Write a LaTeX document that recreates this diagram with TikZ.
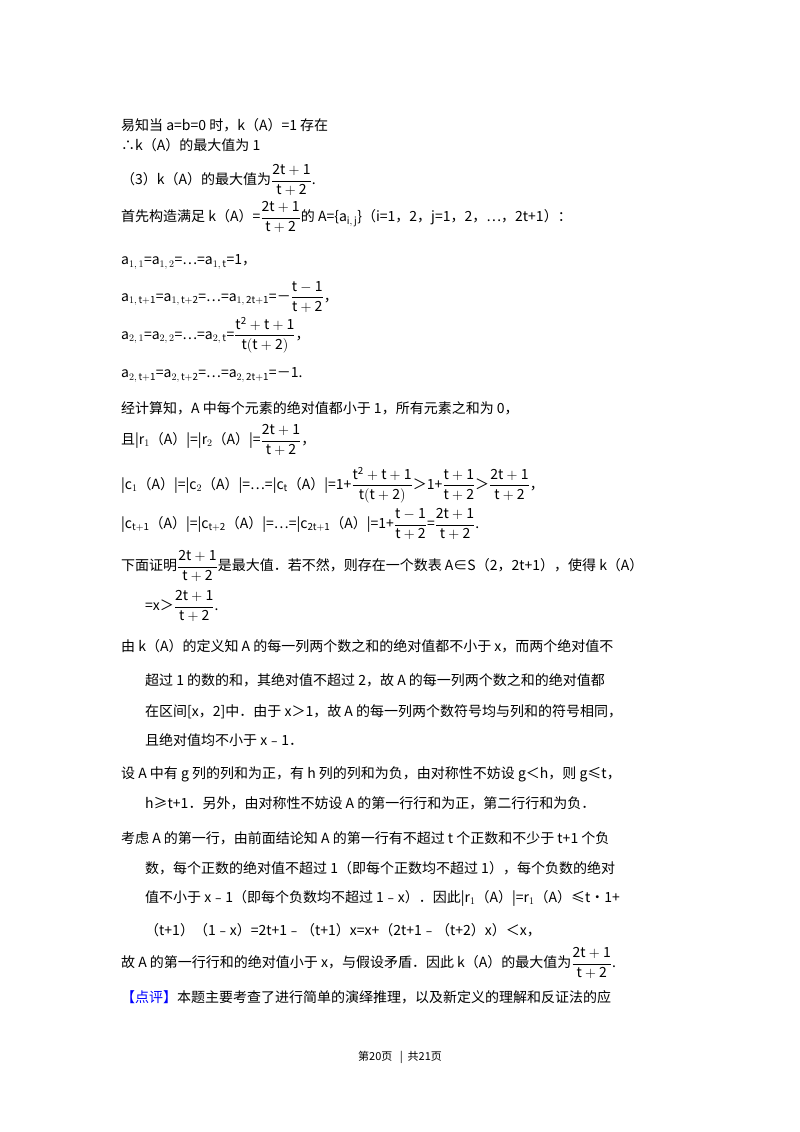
\documentclass[tikz,border=0pt]{standalone}
\usepackage{fontspec}
\setmainfont{Noto Sans CJK SC}
\newcommand{\fr}[2]{$\dfrac{\mathrm{#1}}{\mathrm{#2}}$}
\usepackage{amsmath}
\begin{document}
\begin{tikzpicture}[x=1pt,y=-1pt,
  ln/.style={anchor=west,inner sep=0pt,font=\fontsize{14}{16}\selectfont},
  ft/.style={inner sep=0pt,font=\fontsize{11}{13}\selectfont}]
\useasboundingbox[fill=white] (0,0) rectangle (800,1132);
\def\L{121}\def\I{145}
\node[ln] (l1) at (\L,125) {易知当 a=b=0 时，k（A）=1 存在};
\node[ln] (l2) at (\L,145) {∴k（A）的最大值为 1};
\node[ln] (l3) at (\L,180) {（3）k（A）的最大值为\fr{2t+1}{t+2}.};
\node[ln] (l4) at (\L,217) {首先构造满足 k（A）=\fr{2t+1}{t+2}的 A=\{a$_{\mathrm{i,\,j}}$\}（i=1，2，j=1，2，…，2t+1）：};
\node[ln] (l5) at (\L,262) {a$_{1,\,1}$=a$_{1,\,2}$=…=a$_{1,\,\mathrm{t}}$=1，};
\node[ln] (l6) at (\L,297) {a$_{1,\,\mathrm{t+1}}$=a$_{1,\,\mathrm{t+2}}$=…=a$_{1,\,\mathrm{2t+1}}$=－\fr{t-1}{t+2}，};
\node[ln] (l7) at (\L,335) {a$_{2,\,1}$=a$_{2,\,2}$=…=a$_{2,\,\mathrm{t}}$=\fr{t^2+t+1}{t(t+2)}，};
\node[ln] (l8) at (\L,375) {a$_{2,\,\mathrm{t+1}}$=a$_{2,\,\mathrm{t+2}}$=…=a$_{2,\,\mathrm{2t+1}}$=－1.};
\node[ln] (l9) at (\L,408) {经计算知，A 中每个元素的绝对值都小于 1，所有元素之和为 0，};
\node[ln] (l10) at (\L,440) {且|r$_1$（A）|=|r$_2$（A）|=\fr{2t+1}{t+2}，};
\node[ln] (l11) at (\L,485) {|c$_1$（A）|=|c$_2$（A）|=…=|c$_\mathrm{t}$（A）|=1+\fr{t^2+t+1}{t(t+2)}＞1+\fr{t+1}{t+2}＞\fr{2t+1}{t+2}，};
\node[ln] (l12) at (\L,524) {|c$_\mathrm{t+1}$（A）|=|c$_\mathrm{t+2}$（A）|=…=|c$_\mathrm{2t+1}$（A）|=1+\fr{t-1}{t+2}=\fr{2t+1}{t+2}.};
\node[ln] (l13) at (\L,566) {下面证明\fr{2t+1}{t+2}是最大值．若不然，则存在一个数表 A∈S（2，2t+1），使得 k（A）};
\node[ln] (l14) at (\I,606) {=x＞\fr{2t+1}{t+2}.};
\node[ln] (l15) at (\L,646) {由 k（A）的定义知 A 的每一列两个数之和的绝对值都不小于 x，而两个绝对值不};
\node[ln] (l16) at (\I,680) {超过 1 的数的和，其绝对值不超过 2，故 A 的每一列两个数之和的绝对值都};
\node[ln] (l17) at (\I,712) {在区间[x，2]中．由于 x＞1，故 A 的每一列两个数符号均与列和的符号相同，};
\node[ln] (l18) at (\I,740) {且绝对值均不小于 x﹣1．};
\node[ln] (l19) at (\L,774) {设 A 中有 g 列的列和为正，有 h 列的列和为负，由对称性不妨设 g＜h，则 g≤t，};
\node[ln] (l20) at (\I,803) {h≥t+1．另外，由对称性不妨设 A 的第一行行和为正，第二行行和为负．};
\node[ln] (l21) at (\L,838) {考虑 A 的第一行，由前面结论知 A 的第一行有不超过 t 个正数和不少于 t+1 个负};
\node[ln] (l22) at (\I,868) {数，每个正数的绝对值不超过 1（即每个正数均不超过 1），每个负数的绝对};
\node[ln] (l23) at (\I,898) {值不小于 x﹣1（即每个负数均不超过 1﹣x）．因此|r$_1$（A）|=r$_1$（A）≤t•1+};
\node[ln] (l24) at (\I,930) {（t+1）（1﹣x）=2t+1﹣（t+1）x=x+（2t+1﹣（t+2）x）＜x，};
\node[ln] (l25) at (\L,963) {故 A 的第一行行和的绝对值小于 x，与假设矛盾．因此 k（A）的最大值为\fr{2t+1}{t+2}.};
\node[ln] (l26) at (\L,997) {\textcolor{blue}{【点评】}本题主要考查了进行简单的演绎推理，以及新定义的理解和反证法的应};
\node[ft] (foot) at (400,1057) {第20页 \ \ | \ 共21页};
\end{tikzpicture}
\end{document}
